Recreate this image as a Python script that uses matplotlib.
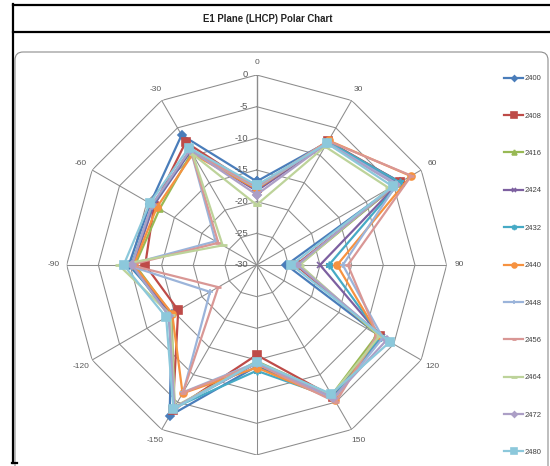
import numpy as np
import matplotlib
matplotlib.use('Agg')
import matplotlib.pyplot as plt
from matplotlib.patches import FancyBboxPatch
from matplotlib.lines import Line2D

plt.rcParams['font.family'] = ['Liberation Sans', 'DejaVu Sans']

# category angles (deg), clockwise from top as in the Excel radar
angles = [0, 30, 60, 90, 120, 150, 180, -150, -120, -90, -60, -30]
# the 180 label falls below the visible picture in the reference
angle_labels = ['0', '30', '60', '90', '120', '150', '', '-150', '-120', '-90', '-60', '-30']
r_ticks = [0, -5, -10, -15, -20, -25, -30]

freqs = ['2400', '2408', '2416', '2424', '2432', '2440', '2448', '2456', '2464', '2472', '2480']

# gain (dB) per frequency, in the order of angles above
g2400 = [-16.8, -7.6, -3.8, -25.3, -7.4, -6.2, -14.0, -2.5, -14.6, -9.8, -10.6, -6.3]
g2408 = [-17.9, -7.4, -3.9, -23.8, -7.6, -6.0, -15.8, -3.5, -15.7, -12.4, -11.3, -7.6]
g2416 = [-18.0, -7.8, -4.3, -23.3, -8.0, -6.3, -14.8, -4.0, -14.5, -10.8, -12.3, -9.5]
g2424 = [-18.3, -7.7, -4.1, -20.0, -7.2, -6.0, -14.5, -4.0, -14.3, -10.5, -11.2, -9.2]
g2432 = [-17.8, -7.5, -3.9, -18.6, -7.4, -5.8, -13.3, -4.0, -14.0, -10.2, -11.0, -9.0]
g2440 = [-18.0, -7.3, -1.9, -17.3, -7.8, -5.4, -13.8, -6.6, -14.6, -10.6, -11.8, -9.8]
g2448 = [-17.8, -7.7, -4.4, -16.4, -7.0, -5.6, -14.6, -6.8, -21.5, -9.5, -22.5, -9.3]
g2456 = [-17.6, -7.4, -1.8, -15.6, -8.0, -5.0, -14.4, -6.7, -23.0, -10.0, -23.0, -9.4]
g2464 = [-20.5, -8.4, -5.8, -23.2, -7.6, -6.3, -14.6, -4.2, -14.3, -8.2, -23.8, -9.8]
g2472 = [-18.9, -7.8, -4.6, -23.6, -6.3, -5.8, -14.6, -4.0, -14.0, -10.3, -10.9, -9.0]
g2480 = [-17.4, -7.8, -5.2, -24.5, -5.7, -6.5, -14.7, -3.7, -13.5, -9.0, -10.5, -8.6]

gains = [g2400, g2408, g2416, g2424, g2432, g2440, g2448, g2456, g2464, g2472, g2480]

colors = ['#4A7DBA', '#BE4B48', '#98B954', '#7D60A0', '#46AAC5', '#F69240',
          '#9BB4DA', '#D99795', '#BDD39A', '#AC9FC6', '#8CC8DB']
markers = ['D', 's', '^', 'x', (6, 2, 0), 'o', '+', '_', '_', 'D', 's']
msizes = [4, 5.5, 5, 5, 5.5, 5, 5, 5, 6, 4, 6.3]

gray = '#595959'
grid_c = '#8C8C8C'

fig = plt.figure(figsize=(5.5, 4.66), dpi=100)

# frame around the chart (pixel coords / 100 -> inches)
H = 4.66
def px(x, y):
    return x / 100, H - y / 100

box = FancyBboxPatch(px(15, 560), 5.33, 5.08, boxstyle='round,pad=0,rounding_size=0.08',
                     transform=fig.dpi_scale_trans, facecolor='none', edgecolor='#8C8C8C', lw=0.8)
fig.add_artist(box)
for (x0, y0), (x1, y1) in [((13, 5), (552, 5)), ((13, 32), (552, 32)), ((13, 4), (13, 463)), ((12, 463), (17, 463))]:
    a, b = px(x0, y0), px(x1, y1)
    fig.add_artist(Line2D([a[0], b[0]], [a[1], b[1]], transform=fig.dpi_scale_trans, color='black', lw=1.6))
fig.text(268 / 550, 1 - 18.5 / 466, 'E1 Plane (LHCP) Polar Chart', ha='center', va='center',
         fontsize=6.9, fontweight='bold', color='#222222')

ax = fig.add_axes([0.1212, 0.0236, 0.6909, 0.8155], projection='polar')
ax.set_zorder(2)
ax.set_theta_zero_location('N')
ax.set_theta_direction(-1)
ax.grid(False)
ax.spines['polar'].set_visible(False)
ax.patch.set_alpha(0)

theta = np.deg2rad(np.mod(angles, 360))
theta_c = np.append(theta, theta[0])

# polygon grid and spokes
for v in r_ticks[:-1]:
    ax.plot(theta_c, [v] * len(theta_c), color=grid_c, lw=0.75, zorder=1)
for t in theta:
    ax.plot([t, t], [-30, 0], color=grid_c, lw=1.0 if t == 0 else 0.75, zorder=1)

handles = []
for name, g, c, m, s in zip(freqs, gains, colors, markers, msizes):
    vals = np.append(g, g[0])
    mew = 2 if m == '_' else 1.2
    ln, = ax.plot(theta_c, vals, color=c, lw=1.6, marker=m, markersize=s,
                  markeredgewidth=mew, markerfacecolor=c, markeredgecolor=c, zorder=3, label=name,
                  clip_on=False)
    handles.append(ln)

ax.set_ylim(-30, 0)
ax.set_yticks([])
ax.set_xticks(theta)
ax.set_xticklabels(angle_labels, fontsize=6, color=gray)
ax.tick_params(axis='x', pad=2.2, length=0)
ax.set_xlim(0, 2 * np.pi)

for v in r_ticks:
    ax.annotate(str(v), xy=(0, v), xytext=(-6, 0), textcoords='offset points',
                ha='right', va='center', fontsize=6.8, color=gray, annotation_clip=False)

fig.legend(handles=handles, loc='upper left', bbox_to_anchor=(504 / 550, 1 - 75 / 466),
           frameon=False, fontsize=5.5, labelspacing=3.93, handlelength=2.5, markerscale=0.7,
           handletextpad=0.15, borderpad=0, borderaxespad=0, labelcolor='#404040')

fig.savefig('out.png', dpi=100)
